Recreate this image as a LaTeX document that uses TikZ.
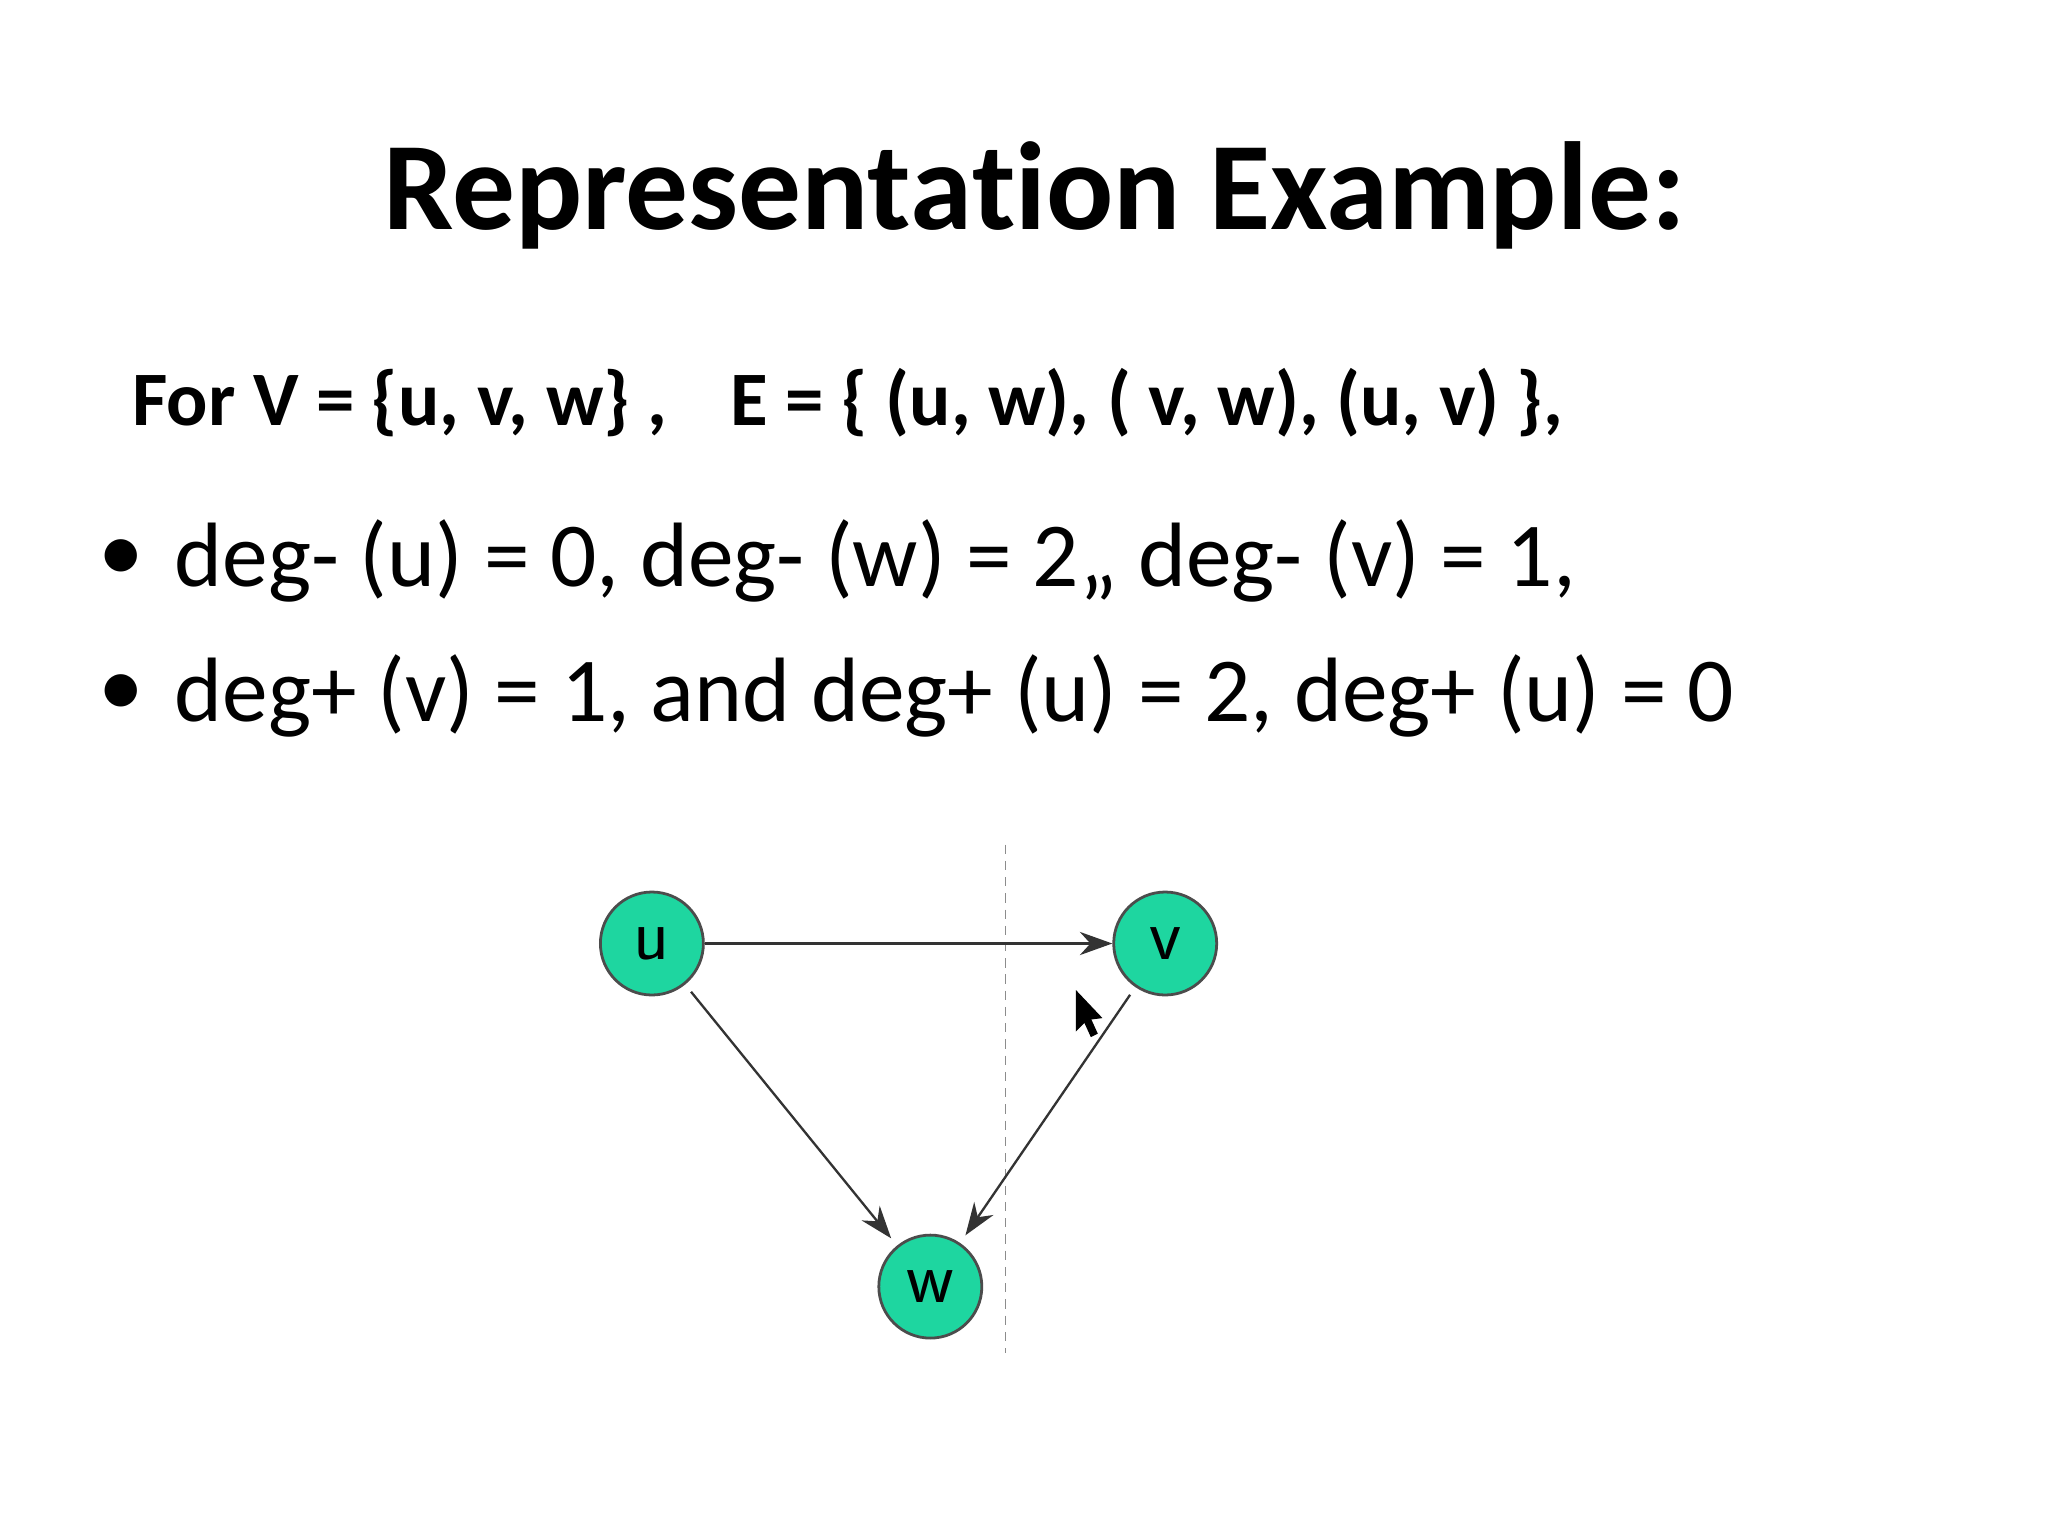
\documentclass[tikz,border=0pt]{standalone}
\usepackage{fontspec}
\setmainfont[Ligatures={NoCommon,NoDiscretionary,NoContextual}]{Carlito}
\usetikzlibrary{arrows.meta}
\begin{document}
\begin{tikzpicture}[x=0.01cm,y=-0.01cm,
  vert/.style={circle,draw=black!70,line width=0.6pt,fill={rgb,255:red,30;green,214;blue,160},minimum size=0.78cm,inner sep=0pt,font=\fontsize{16}{16}\selectfont\sffamily},
  edge/.style={line width=0.5pt,black!80,-{Stealth[length=7pt,width=5pt]}},
  bul/.style={font=\fontsize{19.7}{19.7}\selectfont,anchor=west}]
\useasboundingbox (0,0) rectangle (1552,1164);
\fill[white] (0,0) rectangle (1552,1164);
\node[font=\fontsize{27}{27}\selectfont\bfseries] (title) at (784,148) {Representa\kern0pt tion Example:};
\node[font=\fontsize{16.6}{16.6}\selectfont\bfseries,anchor=west] (sub) at (88,305) {For V = \{u, v, w\} ,\hspace{0.6em} E = \{ (u, w), ( v, w), (u, v) \},};
\node[bul] (d1b) at (62,425) {•};
\node[bul] (b1) at (120,425) {deg- (u) = 0, deg- (w) = 2,, deg- (v) = 1,};
\node[bul] (d2b) at (62,527) {•};
\node[bul] (b2) at (120,527) {deg+ (v) = 1, and deg+ (u) = 2, deg+ (u) = 0};
\coordinate (d1) at (762,640); \coordinate (d2) at (762,1025);
\draw[black!45,line width=0.4pt,dash pattern=on 2pt off 1.5pt] (d1) -- (d2);
\node[vert] (u) at (494,715) {u};
\node[vert] (v) at (883,715) {v};
\node[vert] (w) at (705,975) {w};
\draw[edge] (u) -- (v);
\draw[edge,shorten <=2pt,shorten >=2pt] (u) -- (w);
\draw[edge,shorten <=2pt,shorten >=2pt] (v) -- (w);
\draw[fill=white,black,line width=0.4pt] (816,752) -- (816,780) -- (822,774) -- (827,785) -- (831,783) -- (826,772) -- (834,771) -- cycle;
\end{tikzpicture}
\end{document}
